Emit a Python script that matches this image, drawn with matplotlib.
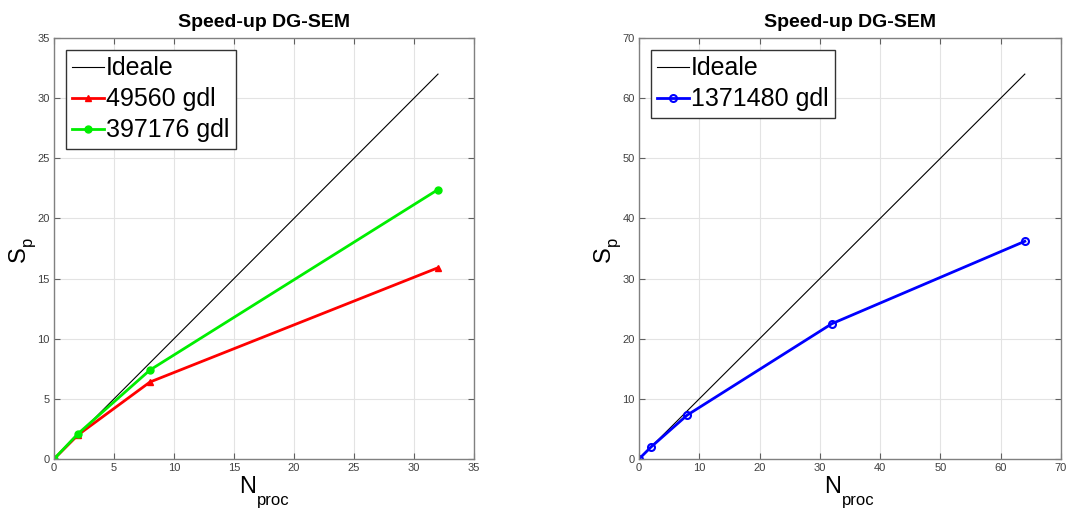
import matplotlib
matplotlib.use("Agg")
import matplotlib.pyplot as plt

plt.rcParams['font.family'] = ['Liberation Sans', 'DejaVu Sans']

# Left panel: speed-up for the two smaller problems
nproc_a = [0, 2, 8, 32]
ideal_a = [0, 2, 8, 32]
sp_49560 = [0, 2.0, 6.4, 15.9]
sp_397176 = [0, 2.1, 7.4, 22.4]

# Right panel: speed-up for the largest problem
nproc_b = [0, 2, 8, 32, 64]
ideal_b = [0, 2, 8, 32, 64]
sp_1371480 = [0, 2.0, 7.3, 22.5, 36.2]

title = "Speed-up DG-SEM"
labels_a = ["Ideale", "49560 gdl", "397176 gdl"]
labels_b = ["Ideale", "1371480 gdl"]

W, H = 1070, 515
fig = plt.figure(figsize=(W / 100, H / 100), dpi=100)
ax1 = fig.add_axes([54 / W, 56 / H, 420 / W, 421 / H])
ax2 = fig.add_axes([639 / W, 56 / H, 422 / W, 421 / H])


def px(x, y):
    """Pixel position (from the top-left corner) to figure fraction."""
    return x / W, 1 - y / H


def style(ax, lim, step, dx):
    ax.set_xlim(0, lim)
    ax.set_ylim(0, lim)
    ax.set_xticks(range(0, lim + 1, step))
    ax.set_yticks(range(0, lim + 1, step))
    ax.grid(True, color='#e3e3e3', linewidth=0.8)
    ax.set_axisbelow(True)
    for s in ax.spines.values():
        s.set_color('#808080')
        s.set_linewidth(1.0)
    ax.tick_params(direction='in', length=4, width=0.8, color='#606060',
                   labelsize=8, labelcolor='#404040', top=True, right=True, pad=3)
    ax.set_title(title, fontsize=14, fontweight='bold', pad=8)
    # axis labels with a large, low subscript
    fig.text(*px(256 + dx, 493), "N", fontsize=17, ha='right', va='baseline')
    fig.text(*px(257 + dx, 505), "proc", fontsize=12, ha='left', va='baseline')
    fig.text(*px(25 + dx, 262), "S", fontsize=17, rotation=90,
             rotation_mode='anchor', ha='left', va='baseline')
    fig.text(*px(32 + dx, 246), "p", fontsize=12, rotation=90,
             rotation_mode='anchor', ha='left', va='baseline')


ax1.plot(nproc_a, ideal_a, color='black', linewidth=0.8, label=labels_a[0])
ax1.plot(nproc_a, sp_49560, color='red', linewidth=2, marker='^', markersize=5,
         label=labels_a[1])
ax1.plot(nproc_a, sp_397176, color='#00ee00', linewidth=2, marker='o', markersize=5,
         label=labels_a[2])
style(ax1, 35, 5, 0)

ax2.plot(nproc_b, ideal_b, color='black', linewidth=0.8, label=labels_b[0])
ax2.plot(nproc_b, sp_1371480, color='blue', linewidth=2, marker='o', markersize=5,
         markerfacecolor='none', markeredgewidth=1.5, label=labels_b[1])
style(ax2, 70, 10, 585)

for ax in (ax1, ax2):
    leg = ax.legend(loc='upper left', fontsize=18, handlelength=1.25, handletextpad=0.1,
                    borderpad=0.25, labelspacing=0.28, fancybox=False, framealpha=1,
                    borderaxespad=0.48)
    leg.get_frame().set_edgecolor('#333333')
    leg.get_frame().set_linewidth(1.0)

fig.savefig("out.png", dpi=100)
